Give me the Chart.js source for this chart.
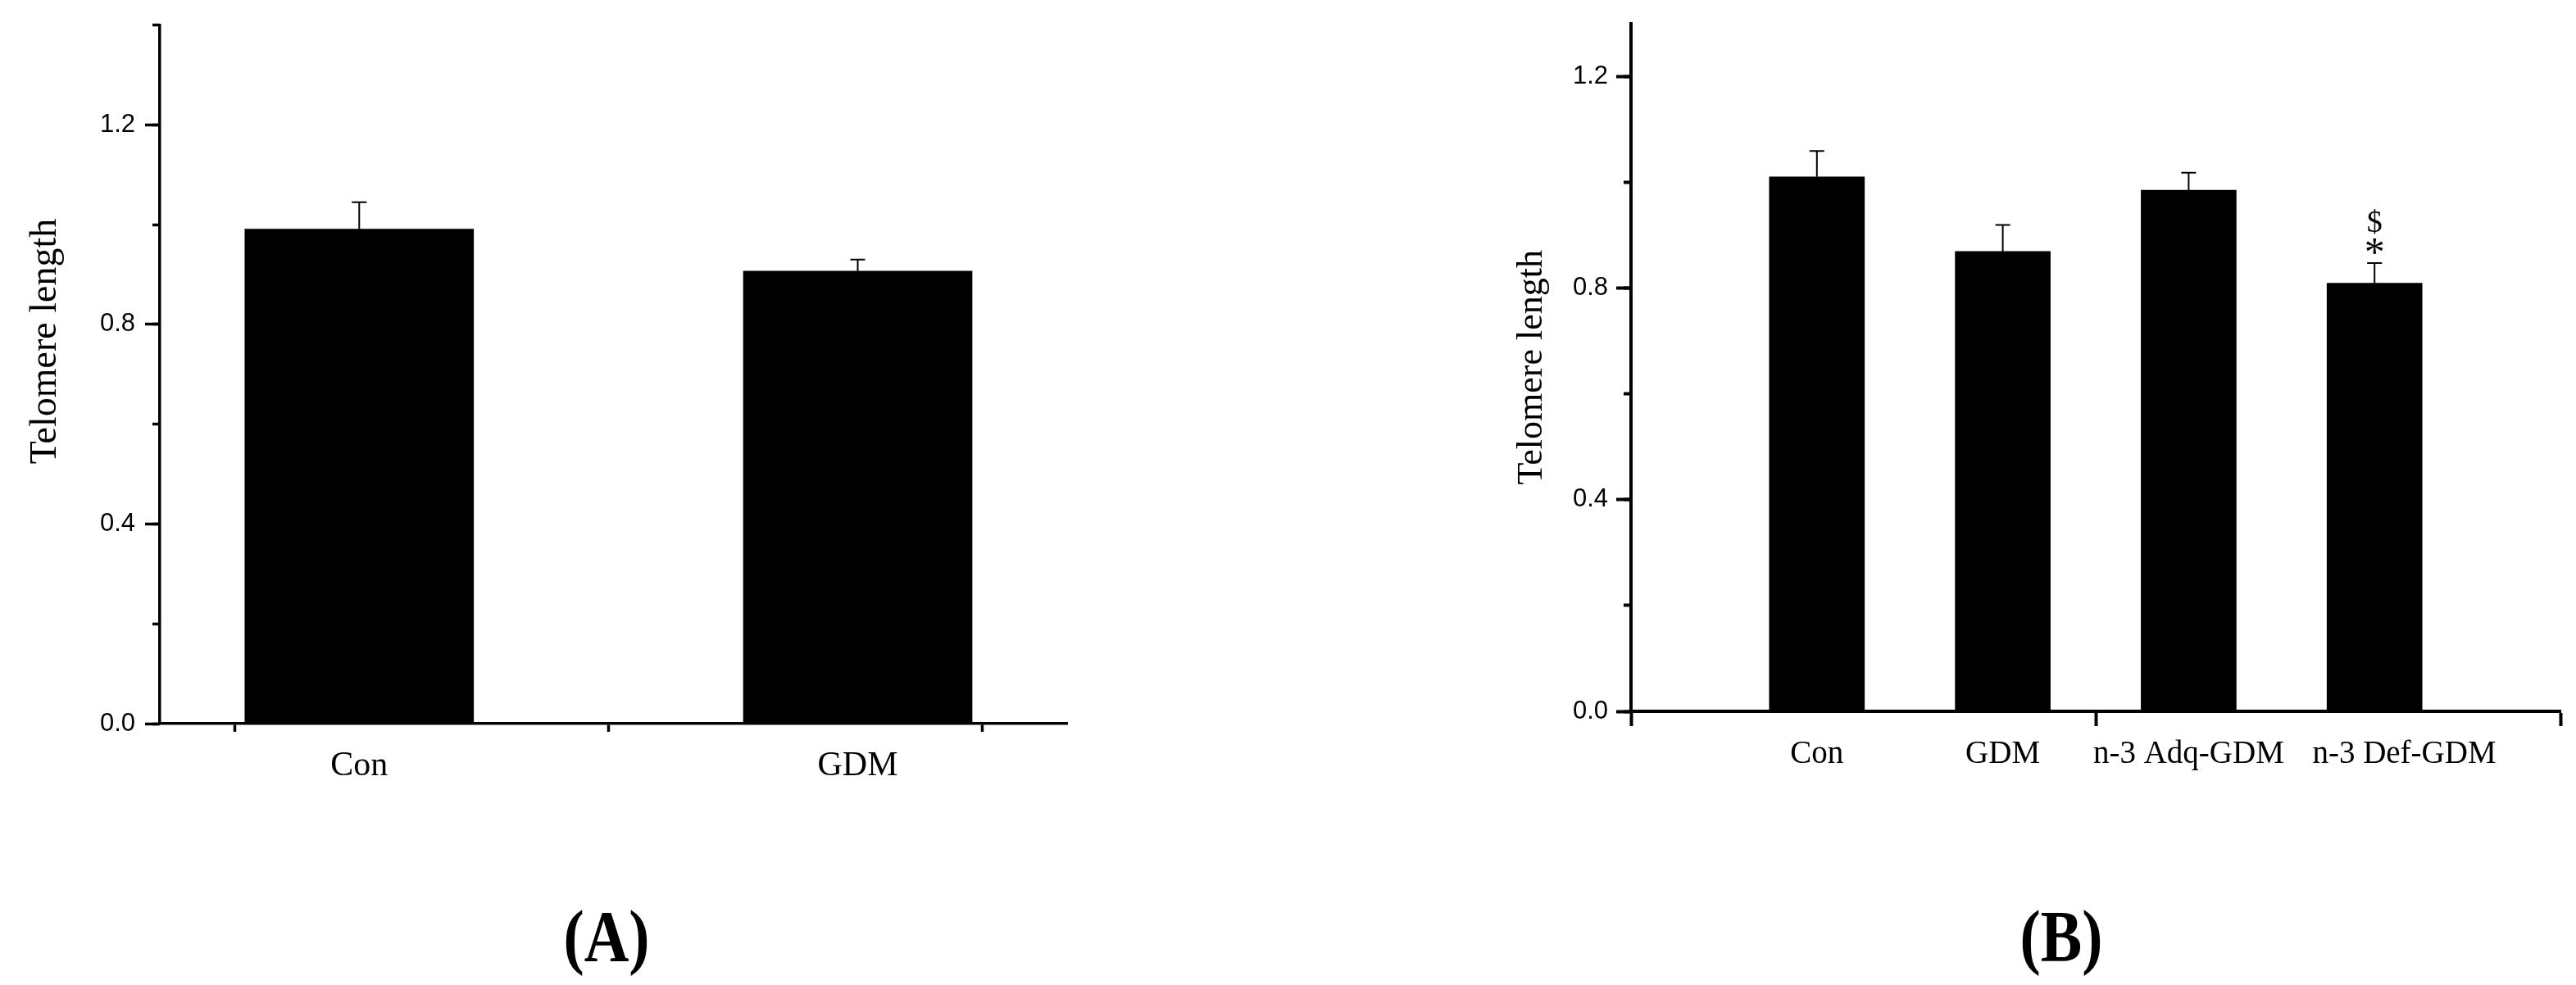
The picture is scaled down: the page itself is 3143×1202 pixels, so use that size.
<!DOCTYPE html>
<html>
<head>
<meta charset="utf-8">
<script src="https://cdn.jsdelivr.net/npm/chart.js@4.4.0/dist/chart.umd.min.js"></script>
<style>
  html, body { margin: 0; padding: 0; background: #fff; }
  body { width: 3143px; height: 1202px; position: relative; overflow: hidden; }
  canvas { position: absolute; top: 0; }
  #chartA { left: 0; }
  #chartB { left: 1700px; }
  .panel-tag {
    position: absolute; top: 1099px;
    font-family: 'Liberation Serif', 'Times New Roman', serif;
    font-weight: bold; font-size: 88px; line-height: 1; color: #000;
    transform: translateX(-50%) scaleX(0.86);
    white-space: nowrap;
  }
</style>
</head>
<body>
<canvas id="chartA" width="1400" height="1010"></canvas>
<canvas id="chartB" width="1443" height="1010"></canvas>
<div class="panel-tag" style="left:740px">(A)</div>
<div class="panel-tag" style="left:2515px">(B)</div>

<script>
// --- Panel A: Con vs GDM ---
const categoriesA = ['Con', 'GDM'];
const positionsA = [1, 2];          // where each bar sits on the x axis
const labelPosA = [1, 2];           // where each category name is written
const meanA = [0.991, 0.907];
const semA = [0.054, 0.023];
const xTickMarksA = [0.75, 1.5, 2.25];

// --- Panel B: four groups ---
const categoriesB = ['Con', 'GDM', 'n-3 Adq-GDM', 'n-3 Def-GDM'];
const positionsB = [1, 2, 3, 4];
const labelPosB = [1, 2, 3, 4.16];  // last label sits a bit right of its bar
const meanB = [1.010, 0.869, 0.985, 0.809];
const semB = [0.049, 0.050, 0.033, 0.038];
const marksB = [[], [], [], ['*', '$']];   // significance marks, bottom to top
const xTickMarksB = [0, 2.5, 5];

const SANS = "'Liberation Sans', Arial, sans-serif";
const SERIF = "'Liberation Serif', 'Times New Roman', serif";

// error bars (upper half only) + significance marks above them
const errorBarPlugin = {
  id: 'errorBars',
  afterDatasetsDraw(chart, args, opts) {
    const ctx = chart.ctx;
    const yScale = chart.scales.y;
    const ds = chart.data.datasets[0];
    const meta = chart.getDatasetMeta(0);
    ctx.save();
    ctx.strokeStyle = '#000';
    ctx.fillStyle = '#000';
    ctx.lineWidth = opts.lineWidth;
    meta.data.forEach((bar, i) => {
      const yTop = yScale.getPixelForValue(ds.data[i].y + ds.errors[i]);
      ctx.beginPath();
      ctx.moveTo(bar.x, bar.y);
      ctx.lineTo(bar.x, yTop);
      ctx.moveTo(bar.x - opts.capWidth / 2, yTop);
      ctx.lineTo(bar.x + opts.capWidth / 2, yTop);
      ctx.stroke();
      const marks = (ds.marks && ds.marks[i]) || [];
      ctx.textAlign = 'center';
      ctx.textBaseline = 'middle';
      marks.forEach((m, k) => {
        ctx.font = (m === '*' ? opts.starSize : opts.markSize) + 'px ' + SERIF;
        ctx.fillText(m, bar.x, yTop - opts.markGap[k]);
      });
    });
    ctx.restore();
  }
};

function buildConfig(p) {
  return {
    type: 'bar',
    data: {
      datasets: [{
        data: p.positions.map((x, i) => ({ x: x, y: p.means[i] })),
        errors: p.errors,
        marks: p.marks,
        backgroundColor: '#000',
        borderWidth: 0,
        barThickness: p.barWidth
      }]
    },
    options: {
      responsive: false,
      animation: false,
      events: [],
      layout: { padding: p.padding },
      plugins: {
        legend: { display: false },
        tooltip: { enabled: false },
        errorBars: { lineWidth: 2, capWidth: 18, markSize: 38, starSize: 50, markGap: [10, 48] }
      },
      scales: {
        x: {
          type: 'linear',
          position: 'bottom',
          offset: false,
          min: p.xMin,
          max: p.xMax,
          border: { display: true, color: '#000', width: p.axisWidth },
          grid: {
            offset: false,
            drawOnChartArea: false,
            tickLength: p.xTickLength,
            tickWidth: p.axisWidth,
            tickColor: c => (c.tick && p.tickMarks.includes(c.tick.value)) ? '#000' : 'rgba(0,0,0,0)'
          },
          afterBuildTicks: s => {
            s.ticks = p.tickMarks.concat(p.labelPos)
              .sort((a, b) => a - b)
              .map(v => ({ value: v }));
          },
          ticks: {
            autoSkip: false, maxRotation: 0, minRotation: 0,
            padding: p.xLabelPad,
            color: '#000',
            font: { family: SERIF, size: p.xLabelSize },
            callback: v => {
              const i = p.labelPos.indexOf(v);
              return i >= 0 ? p.categories[i] : '';
            }
          },
          afterFit: s => { s.height = 110; }
        },
        y: {
          type: 'linear',
          position: 'left',
          weight: 1,
          min: 0,
          max: p.yMax,
          border: { display: true, color: '#000', width: p.axisWidth },
          grid: { drawOnChartArea: false, tickLength: 18, tickWidth: p.axisWidth, tickColor: '#000' },
          ticks: {
            stepSize: 0.4, includeBounds: false,
            padding: p.yLabelPad, color: '#000',
            font: { family: SANS, size: 31 },
            callback: v => v.toFixed(1)
          },
          title: {
            display: true,
            text: p.title,
            color: '#000',
            font: { family: SERIF, size: p.titleSize, lineHeight: 1.2 },
            padding: { top: p.titlePad, bottom: 0 }
          },
          afterFit: s => { s.width = p.yAxisWidth; }
        },
        yMinor: {
          type: 'linear',
          position: 'left',
          weight: 0,
          min: 0,
          max: p.yMax,
          border: { display: false },
          grid: { drawOnChartArea: false, tickLength: 9, tickWidth: p.axisWidth, tickColor: '#000' },
          ticks: { stepSize: 0.2, includeBounds: false, display: false },
          afterFit: s => { s.width = 0; }
        }
      }
    },
    plugins: [errorBarPlugin]
  };
}

new Chart(document.getElementById('chartA'), buildConfig({
  categories: categoriesA, positions: positionsA, labelPos: labelPosA, means: meanA, errors: semA, marks: null,
  tickMarks: xTickMarksA, xMin: 0.6, xMax: 2.42, yMax: 1.4,
  barWidth: 279, axisWidth: 3.5, xTickLength: 10, xLabelPad: 17, xLabelSize: 42,
  yLabelPad: 12, yAxisWidth: 195,
  title: '       Telomere length', titleSize: 46, titlePad: 28,
  padding: { left: 0, top: 28, right: 98, bottom: 17 }
}));

new Chart(document.getElementById('chartB'), buildConfig({
  categories: categoriesB, positions: positionsB, labelPos: labelPosB, means: meanB, errors: semB, marks: marksB,
  tickMarks: xTickMarksB, xMin: 0, xMax: 5, yMax: 1.3,
  barWidth: 116, axisWidth: 4, xTickLength: 18, xLabelPad: 11, xLabelSize: 39,
  yLabelPad: 10, yAxisWidth: 290,
  title: 'Telomere length', titleSize: 44, titlePad: 143,
  padding: { left: 0, top: 21, right: 19, bottom: 32 }
}));
</script>
</body>
</html>
